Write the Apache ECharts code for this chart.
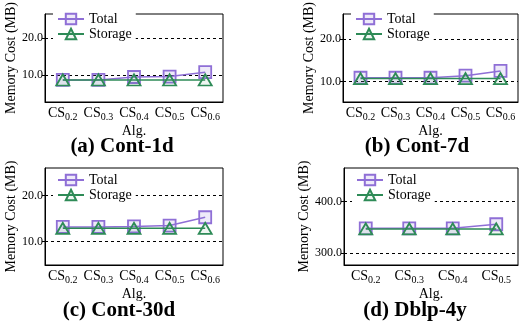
<!DOCTYPE html>
<html>
<head>
<meta charset="utf-8">
<script src="https://cdn.jsdelivr.net/npm/echarts@6/dist/echarts.min.js"></script>
<style>
html, body { margin: 0; padding: 0; background: #fff; }
#graph { width: 519px; height: 326px; }
</style>
</head>
<body>
<div id="graph"></div>
<script>
"use strict"

// categories (subscripts of CS)
const catsCont = ["0.2", "0.3", "0.4", "0.5", "0.6"];
const catsDblp = ["0.2", "0.3", "0.4", "0.5"];

// memory cost (MB)
const totalA = [8.7, 8.7, 9.5, 9.6, 10.8];
const storageA = [8.7, 8.7, 8.7, 8.7, 8.7];
const totalB = [10.9, 10.9, 10.9, 11.4, 12.5];
const storageB = [10.7, 10.7, 10.7, 10.7, 10.7];
const totalC = [13.2, 13.2, 13.3, 13.5, 15.3];
const storageC = [12.9, 12.9, 12.9, 12.9, 12.9];
const totalD = [348, 348, 348, 356];
const storageD = [347, 347, 347, 347];

// y tick values
const ticksCont = [10, 20];
const ticksDblp = [300, 400];

const titles = ["(a) Cont-1d", "(b) Cont-7d", "(c) Cont-30d", "(d) Dblp-4y"];

const serif = "Liberation Serif";
const purple = "#8f6fd6", green = "#2e8b57";

const panels = [
    { grid: { left: 45, top: 7, width: 178, height: 95 }, cats: catsCont, total: totalA, storage: storageA, ticks: ticksCont, min: 2.75, max: 26.5, nameGap: 24 },
    { grid: { left: 343, top: 7, width: 175, height: 95 }, cats: catsCont, total: totalB, storage: storageB, ticks: ticksCont, min: 5.2, max: 25.9, nameGap: 27 },
    { grid: { left: 45, top: 168, width: 178, height: 97 }, cats: catsCont, total: totalC, storage: storageC, ticks: ticksCont, min: 4.93, max: 26.0, nameGap: 21 },
    { grid: { left: 344, top: 168, width: 174, height: 97 }, cats: catsDblp, total: totalD, storage: storageD, ticks: ticksDblp, min: 277, max: 465, nameGap: 32 }
];
const titlePos = [[122, 136], [417, 136], [119, 300], [415, 300]];

const grids = [], xAxes = [], yAxes = [], series = [], legends = [], titleOpts = [];
panels.forEach((p, i) =>
{
    grids.push(Object.assign({ show: true, borderColor: "#000", borderWidth: 1 }, p.grid));
    xAxes.push({
        type: "category",
        gridIndex: i,
        data: p.cats,
        boundaryGap: true,
        name: "Alg.",
        nameLocation: "middle",
        nameGap: 22,
        nameTextStyle: { fontFamily: serif, fontSize: 14, color: "#000" },
        axisLine: { lineStyle: { color: "#000", width: 1 } },
        axisTick: { inside: true, alignWithLabel: true, length: 4, lineStyle: { color: "#000" } },
        axisLabel: {
            margin: 4,
            interval: 0,
            color: "#000",
            formatter: v => `{m|CS}{s|${v}}`,
            rich: {
                m: { fontFamily: serif, fontSize: 14, verticalAlign: "top", lineHeight: 14 },
                s: { fontFamily: serif, fontSize: 10, verticalAlign: "top", padding: [6, 0, 0, 0], lineHeight: 10 }
            }
        }
    });
    yAxes.push({
        type: "value",
        gridIndex: i,
        min: p.min,
        max: p.max,
        name: "Memory Cost (MB)",
        nameLocation: "middle",
        nameGap: p.nameGap,
        nameTextStyle: { fontFamily: serif, fontSize: 14, color: "#000" },
        axisLine: { show: true, lineStyle: { color: "#000", width: 1 } },
        axisTick: { show: true, length: 3, customValues: p.ticks, lineStyle: { color: "#000" } },
        axisLabel: { customValues: p.ticks, margin: 2, fontFamily: serif, fontSize: 12, color: "#000", formatter: v => v.toFixed(1) },
        splitLine: { show: true, lineStyle: { color: "#000", type: [3, 3], width: 1 } }
    });
    series.push({
        name: "Total", type: "line", xAxisIndex: i, yAxisIndex: i, data: p.total,
        symbol: "rect", symbolSize: 12,
        lineStyle: { color: purple, width: 1.5 },
        itemStyle: { color: "rgba(143,111,214,0.15)", borderColor: purple, borderWidth: 1.8 },
        z: 3
    });
    series.push({
        name: "Storage", type: "line", xAxisIndex: i, yAxisIndex: i, data: p.storage,
        symbol: "triangle", symbolSize: [13, 11],
        lineStyle: { color: green, width: 1.5 },
        itemStyle: { color: "rgba(46,139,87,0.08)", borderColor: green, borderWidth: 1.8 },
        z: 4
    });
    legends.push({
        orient: "vertical",
        left: p.grid.left + 8,
        top: p.grid.top + 3,
        itemWidth: 26,
        itemHeight: 13,
        itemGap: 1,
        padding: [2, 4],
        backgroundColor: "#fff",
        textStyle: { fontFamily: serif, fontSize: 14, color: "#000" },
        data: ["Total", "Storage"]
    });
    titleOpts.push({
        text: titles[i],
        left: titlePos[i][0],
        top: titlePos[i][1],
        textAlign: "center",
        padding: 0,
        textStyle: { fontFamily: serif, fontWeight: "bold", fontSize: 21, color: "#000" }
    });
});

const myChart = echarts.init(document.getElementById("graph"), null, { renderer: "canvas" });
myChart.setOption({
    animation: false,
    title: titleOpts,
    grid: grids,
    xAxis: xAxes,
    yAxis: yAxes,
    legend: legends,
    series: series
});
</script>
</body>
</html>
